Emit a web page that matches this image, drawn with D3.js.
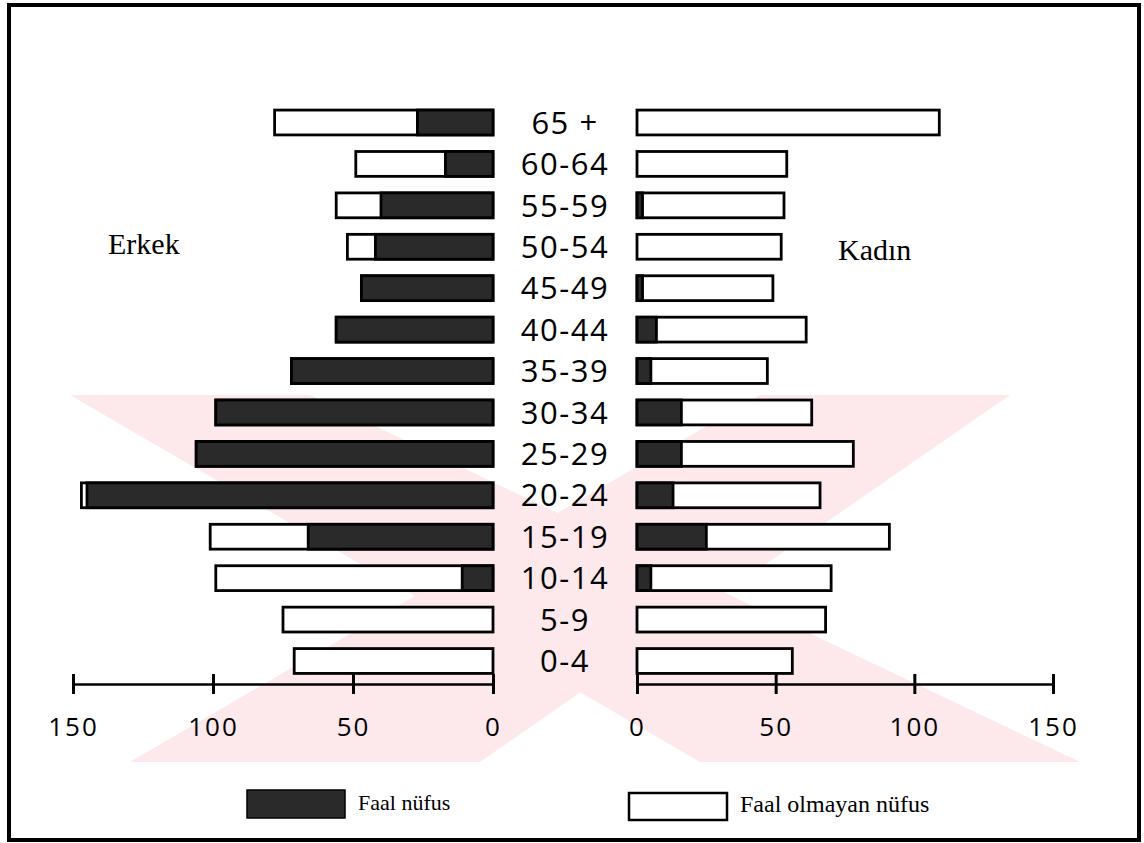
<!DOCTYPE html>
<html><head><meta charset="utf-8">
<script src="https://cdn.jsdelivr.net/npm/d3@7"></script>
<style>
html,body{margin:0;padding:0;background:#fff;}
svg{display:block;}
</style></head>
<body>
<svg id="chart" width="1144" height="843"></svg>
<script>
// ---- data ----
const ages = ["65 +","60-64","55-59","50-54","45-49","40-44","35-39","30-34","25-29","20-24","15-19","10-14","5-9","0-4"];
const maleActive   = [27, 17, 40, 42, 47, 56, 72, 99, 106, 145, 66, 11, 0, 0];
const maleTotal    = [78, 49, 56, 52, 47, 56, 72, 99, 106, 147, 101, 99, 75, 71];
const femaleActive = [0, 0, 2, 0, 2, 7, 5, 16, 16, 13, 25, 5, 0, 0];
const femaleTotal  = [109, 54, 53, 52, 49, 61, 47, 63, 78, 66, 91, 70, 68, 56];
const tickValues = [0, 50, 100, 150];
const sideLabels = ["Erkek", "Kadın"];
const legendLabels = ["Faal nüfus", "Faal olmayan nüfus"];

const svg = d3.select("#chart");
const dark = "#2a2a2a";
const sans = "'Open Sans', 'DejaVu Sans', sans-serif";
const serif = "'Liberation Serif', 'Times New Roman', serif";

// watermark (faint pink X behind the chart)
const wm = svg.append("g").attr("fill", "#fde8eb");
const arms = [
  [[70,395],[310,395],[1080,762],[700,762]],
  [[760,395],[1010,395],[480,762],[130,762]]
];
arms.forEach(p => wm.append("polygon").attr("points", p.map(d => d.join(",")).join(" ")));

// frame
svg.append("rect").attr("x", 9).attr("y", 5).attr("width", 1130).attr("height", 835)
  .attr("fill", "none").attr("stroke", "#000").attr("stroke-width", 4);

// scales
const xL = d3.scaleLinear().domain([0, 150]).range([493, 73]);
const xR = d3.scaleLinear().domain([0, 150]).range([637, 1053]);
const y = d3.scalePoint().domain(ages).range([122.5, 661]);
const bh = y.step() * 0.6;

const rows = ages.map((a, i) => ({age: a, mA: maleActive[i], mT: maleTotal[i], fA: femaleActive[i], fT: femaleTotal[i]}));

const g = svg.append("g");
// male bars
g.selectAll(".mT").data(rows).join("rect")
  .attr("x", d => xL(d.mT)).attr("y", d => y(d.age) - bh/2)
  .attr("width", d => xL(0) - xL(d.mT)).attr("height", bh)
  .attr("fill", "#fff").attr("stroke", "#000").attr("stroke-width", 2.8);
g.selectAll(".mA").data(rows.filter(d => d.mA > 0)).join("rect")
  .attr("x", d => xL(d.mA)).attr("y", d => y(d.age) - bh/2)
  .attr("width", d => xL(0) - xL(d.mA)).attr("height", bh)
  .attr("fill", dark).attr("stroke", "#000").attr("stroke-width", 2.8);
// female bars
g.selectAll(".fT").data(rows).join("rect")
  .attr("x", xR(0)).attr("y", d => y(d.age) - bh/2)
  .attr("width", d => xR(d.fT) - xR(0)).attr("height", bh)
  .attr("fill", "#fff").attr("stroke", "#000").attr("stroke-width", 2.8);
g.selectAll(".fA").data(rows.filter(d => d.fA > 0)).join("rect")
  .attr("x", xR(0)).attr("y", d => y(d.age) - bh/2)
  .attr("width", d => xR(d.fA) - xR(0)).attr("height", bh)
  .attr("fill", dark).attr("stroke", "#000").attr("stroke-width", 2.8);

// age labels
g.selectAll(".age").data(ages).join("text")
  .attr("x", 565).attr("y", d => y(d)).attr("dy", "0.36em")
  .attr("text-anchor", "middle").attr("font-family", sans).attr("font-size", 31)
  .attr("letter-spacing", 1.5).attr("fill", "#000").text(d => d);

// axes
function styleAxis(sel) {
  sel.select(".domain").attr("stroke", "#000").attr("stroke-width", 2.5);
  sel.selectAll(".tick line").attr("stroke", "#000").attr("stroke-width", 3).attr("y1", -10).attr("y2", 10);
  sel.selectAll(".tick text").attr("font-family", sans).attr("font-size", 26)
    .attr("letter-spacing", 2).attr("fill", "#000").attr("y", 34);
}
const axisY = 684;
svg.append("g").attr("transform", `translate(0,${axisY})`)
  .call(d3.axisBottom(xL).tickValues(tickValues).tickSizeOuter(0).tickSize(0)).call(styleAxis);
svg.append("g").attr("transform", `translate(0,${axisY})`)
  .call(d3.axisBottom(xR).tickValues(tickValues).tickSizeOuter(0).tickSize(0)).call(styleAxis);

// side labels
svg.append("text").attr("x", 108).attr("y", 254).attr("font-family", serif).attr("font-size", 30).text(sideLabels[0]);
svg.append("text").attr("x", 838).attr("y", 260).attr("font-family", serif).attr("font-size", 30).text(sideLabels[1]);

// legend
const lg = svg.append("g");
lg.append("rect").attr("x", 247).attr("y", 790).attr("width", 98).attr("height", 28).attr("fill", dark).attr("stroke", "#000").attr("stroke-width", 1.5);
lg.append("text").attr("x", 358).attr("y", 810).attr("font-family", serif).attr("font-size", 22).text(legendLabels[0]);
lg.append("rect").attr("x", 629).attr("y", 793).attr("width", 98).attr("height", 27).attr("fill", "#fff").attr("stroke", "#000").attr("stroke-width", 2.5);
lg.append("text").attr("x", 740).attr("y", 812).attr("font-family", serif).attr("font-size", 24).text(legendLabels[1]);
</script>
</body></html>
